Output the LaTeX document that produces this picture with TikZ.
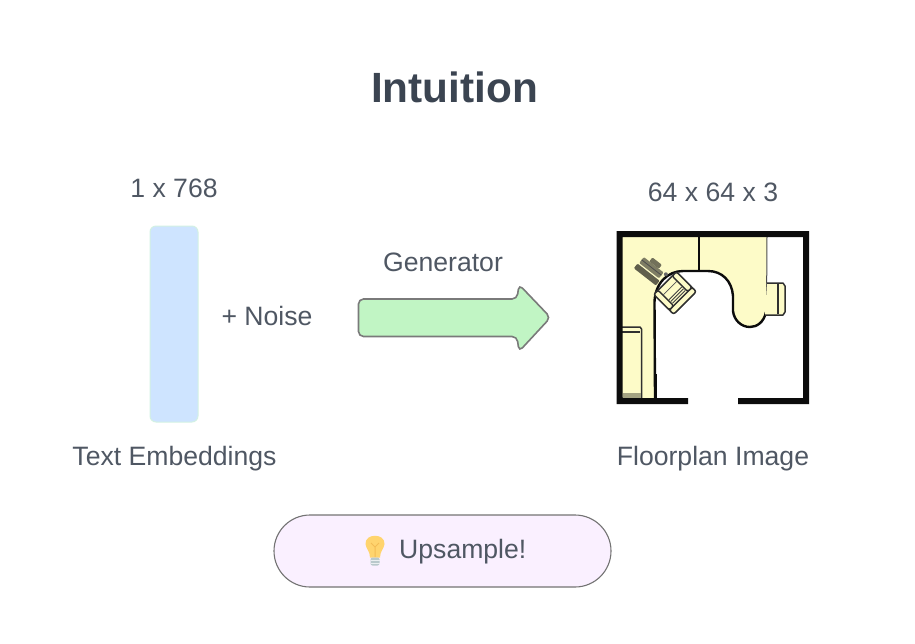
\documentclass[tikz,border=0pt]{standalone}
\usepackage{fontspec}
\setmainfont{Liberation Sans}
\definecolor{txt}{HTML}{4F5763}
\definecolor{ttl}{HTML}{3B4451}
\definecolor{plan}{HTML}{FDFBC8}
\definecolor{ink}{HTML}{0C0C0C}
\definecolor{bulb}{HTML}{FFD46E}
\definecolor{bulbline}{HTML}{F3BC55}
\definecolor{bulbbase}{HTML}{B9C9CC}
\definecolor{bar}{HTML}{CEE4FF}
\definecolor{barline}{HTML}{D3F1E3}
\definecolor{arrowfill}{HTML}{C1F5C4}
\definecolor{pill}{HTML}{FAF0FF}
\tikzset{
  lab/.style={text=txt,inner sep=0pt,font=\fontsize{26.6}{30}\selectfont},
  wall/.style={draw=ink,line width=2.4pt,line join=round},
  thin/.style={draw=ink!85,line width=1.5pt,line join=round},
}
\begin{document}
\begin{tikzpicture}[x=1pt,y=-1pt]
\useasboundingbox (0,0) rectangle (915,643);
\node[inner sep=0pt,text=ttl,font=\fontsize{42.3}{48}\selectfont\bfseries] (title) at (454.5,87) {Intuition};
\node[lab] (dimA) at (174,188.5) {1 x 768};
\node[lab] (dimB) at (713,192.5) {64 x 64 x 3};
\node[lab] (gen) at (443,262.5) {Generator};
\node[lab] (noise) at (267,315.5) {+ Noise};
\node[lab] (te) at (174.5,458.5) {Text Embeddings};
\node[lab] (fp) at (713,458.5) {Floorplan Image};
% embedding bar
\draw[draw=barline,line width=1pt,fill=bar,rounded corners=6pt] (150,226) rectangle (198,422);
% block arrow
\draw[draw=black!52,line width=1.6pt,fill=arrowfill,rounded corners=5pt]
  (358.5,299) -- (517,299) -- (519,284.5) -- (550.5,317.5) -- (519,351.5) -- (517,336.5) -- (358.5,336.5) -- cycle;
% floorplan
\fill[plan] (622,236) -- (767,236) -- (766,312)
  .. controls (764,322) and (757,327) .. (750,327)
  .. controls (741,327) and (734,320) .. (733,311)
  -- (733,296)
  .. controls (732,281) and (722,271) .. (708,271)
  -- (683,271)
  .. controls (668,271) and (655,283) .. (654.5,302)
  -- (655,398) -- (622,398) -- cycle;
\draw[wall] (655,398) -- (654.5,302)
  .. controls (655,283) and (668,271) .. (683,271)
  -- (708,271)
  .. controls (722,271) and (732,281) .. (733,296)
  -- (733,311)
  .. controls (734,320) and (741,327) .. (750,327)
  .. controls (757,327) and (764,322) .. (766,312);
\draw[draw=black!70,line width=1pt] (767,236) -- (766.5,312);
\draw[wall] (699,236) -- (699,271);
\draw[wall,line width=1.6pt] (656.5,374) -- (656.5,398);
% right chair
\draw[thin,fill=plan] (767,283) -- (783,283) -- (785,286) -- (785,312) -- (783,315) -- (765,315);
\draw[thin,line width=1.1pt] (778,284) -- (778,314);
% left shelf
\draw[thin,fill=plan] (622,327) -- (640,327) -- (641.5,329) -- (641.5,398) -- (622,398);
\draw[thin,line width=1.1pt] (622,332) -- (640,332);
\fill[black!35!plan] (623,393) -- (641,393) -- (641,398) -- (623,398) -- cycle;
% outer walls
\fill[ink] (616.5,231) -- (809,231) -- (809,404) -- (738,404) -- (738,398) -- (803,398) -- (803,237) -- (622.5,237) -- (622.5,398) -- (688,398) -- (688,404) -- (616.5,404) -- cycle;
% armchair
\begin{scope}[shift={(675,293)},rotate=-45]
  \draw[thin,fill=plan,rounded corners=3pt] (-14,-16) rectangle (14,16);
  \draw[thin,fill=plan,rounded corners=2pt] (8,-16) rectangle (14,16);
  \draw[thin,fill=plan,rounded corners=2pt] (-14,-16) rectangle (8,-10);
  \draw[thin,fill=plan,rounded corners=2pt] (-14,10) rectangle (8,16);
  \draw[draw=ink!80,line width=.9pt] (3,-9) -- (3,9) (5.5,-9) -- (5.5,9) (0.5,-9) -- (0.5,9);
  \draw[draw=ink!70,line width=.8pt] (-7,-10) -- (-7,10);
\end{scope}
% desk items
\begin{scope}[shift={(651,269)},rotate=-38]
  \fill[black!62!plan,rounded corners=1pt] (-14,4) rectangle (14,10);
  \fill[black!50!plan,rounded corners=1pt] (-13,-5) rectangle (12,2.5);
  \draw[draw=black!70,line width=.8pt] (-13,-1.5) -- (12,-1.5);
  \fill[black!55!plan,rounded corners=1pt] (-6,-10) rectangle (6,-5);
  \fill[black!60] (15,-5) circle (2pt);
\end{scope}
% note pill
\draw[draw=black!55,line width=1.1pt,fill=pill,rounded corners=36pt] (274,515) rectangle (611,587);
\node[lab,anchor=west] (up) at (399,551.5) {Upsample!};
% bulb
\fill[bulb] (370,557.5) .. controls (370,551) and (366,549) .. (365.5,544)
  .. controls (365,533) and (385,533) .. (384.5,544)
  .. controls (384,549) and (380,551) .. (380,557.5) -- cycle;
\draw[bulbline,line width=1pt] (375,557) -- (375,547) -- (371,543) (375,547) -- (379,543);
\fill[bulbbase,rounded corners=2pt] (370.5,557.5) rectangle (379.5,565.5);
\draw[white!70!bulbbase,line width=.7pt] (370.5,560.5) -- (379.5,560.5) (370.5,563) -- (379.5,563);
\end{tikzpicture}
\end{document}
